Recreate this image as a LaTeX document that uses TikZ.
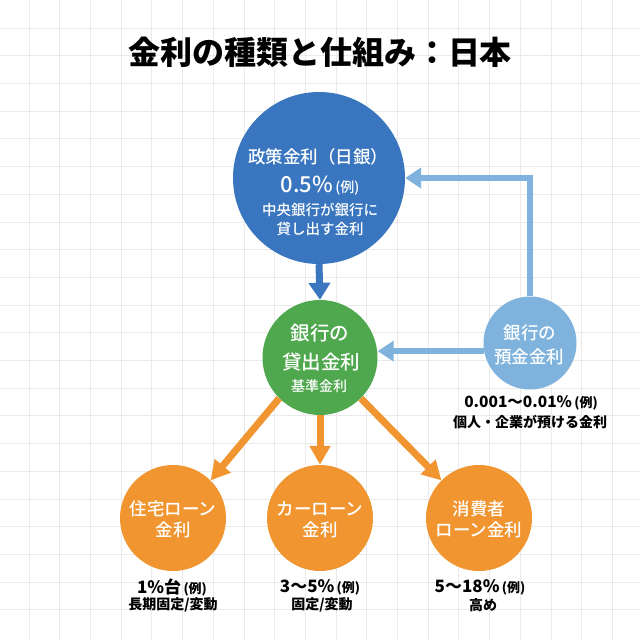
\documentclass[tikz,border=0pt]{standalone}
\usepackage{fontspec}
\setmainfont{Noto Sans CJK JP}
\newfontfamily\jpmed{Noto Sans CJK JP}[UprightFont=* Medium]
\usetikzlibrary{arrows.meta}
\definecolor{cblue}{HTML}{3A76BF}
\definecolor{cgreen}{HTML}{4FA84E}
\definecolor{clight}{HTML}{7FB3DD}
\definecolor{corange}{HTML}{F0952F}
\definecolor{cgrid}{HTML}{EAEAEA}
\newcommand{\fsz}[1]{\fontsize{#1}{#1}\selectfont}
\tikzset{
  gridline/.style={draw=cgrid, line width=0.8pt},
  circ/.style={circle, inner sep=0pt, draw=none},
  wt/.style={inner sep=0pt, text=white, font=\jpmed},
  bt/.style={inner sep=0pt, text=black, font=\bfseries},
  bluearrow/.style={draw=cblue, line width=7pt, -{Triangle[width=21pt,length=17pt]}},
  lightarrow/.style={draw=clight, line width=6pt, -{Triangle[width=20pt,length=16pt]}},
  orangearrow/.style={draw=corange, line width=7pt, -{Triangle[width=20pt,length=19pt]}},
}
\begin{document}
\begin{tikzpicture}[x=1pt,y=-1pt]
\useasboundingbox (0,0) rectangle (640,640);
\fill[white] (0,0) rectangle (640,640);
\foreach \i in {0,...,19} \draw[gridline] ({29+30.7*\i},0) -- ({29+30.7*\i},640);
\foreach \j in {0,...,21} \draw[gridline] (0,{28+27.7*\j}) -- (640,{28+27.7*\j});

% title
\node[bt, font=\bfseries\fsz{32}] (title) at (320,52) {金利の種類と仕組み：日本};

% circles
\node[circ, fill=cblue, minimum size=172pt] (pol) at (319,178) {};
\node[circ, fill=cgreen, minimum size=115pt] (lend) at (320,357.5) {};
\node[circ, fill=clight, minimum size=93pt] (dep) at (530,343) {};
\node[circ, fill=corange, minimum size=106pt] (home) at (173,518) {};
\node[circ, fill=corange, minimum size=106pt] (car) at (320,518) {};
\node[circ, fill=corange, minimum size=106pt] (cons) at (479,518) {};

% connectors
\draw[bluearrow] (pol.south) -- (lend.north);
\draw[lightarrow] (dep.north) |- (pol.east);
\draw[lightarrow] (dep.190) -- (dep.190 -| lend.east);
\draw[orangearrow] (lend.225) -- (home.45);
\draw[orangearrow] (lend.south) -- (car.north);
\draw[orangearrow] (lend.315) -- (cons.135);

% policy rate text
\node[wt, font=\jpmed\fsz{17.5}] (polA) at (318,157) {政策金利（日銀）};
\node[wt] (polB) at (320,186) {{\fsz{22}0.5\%} {\fsz{14}(例)}};
\node[wt, font=\jpmed\fsz{14.5}] (polC) at (320,210) {中央銀行が銀行に};
\node[wt, font=\jpmed\fsz{14.5}] (polD) at (320,229) {貸し出す金利};

% lending rate text
\node[wt, font=\jpmed\fsz{19.5}] (lendA) at (320,333) {銀行の};
\node[wt, font=\jpmed\fsz{19.5}] (lendB) at (321,362) {貸出金利};
\node[wt, font=\jpmed\fsz{14}] (lendC) at (319,386) {基準金利};

% deposit rate text
\node[wt, font=\jpmed\fsz{17.5}] (depA) at (530,333) {銀行の};
\node[wt, font=\jpmed\fsz{17.5}] (depB) at (529,357) {預金金利};
\node[bt] (depC) at (531,403) {{\fsz{15.5}0.001～0.01\%} {\fsz{13}(例)}};
\node[bt, font=\bfseries\fsz{14}] (depD) at (530,422) {個人・企業が預ける金利};

% loan circles text
\node[wt, font=\jpmed\fsz{17.5}] (homeA) at (173,509) {住宅ローン};
\node[wt, font=\jpmed\fsz{17.5}] (homeB) at (173,530) {金利};
\node[wt, font=\jpmed\fsz{17.5}] (carA) at (320,509) {カーローン};
\node[wt, font=\jpmed\fsz{17.5}] (carB) at (320,530) {金利};
\node[wt, font=\jpmed\fsz{17.5}] (consA) at (479,509) {消費者};
\node[wt, font=\jpmed\fsz{17.5}] (consB) at (479,530) {ローン金利};

% loan labels
\node[bt] (homeC) at (172,587) {{\fsz{17}1\%台} {\fsz{13}(例)}};
\node[bt, font=\bfseries\fsz{14}] (homeD) at (173,605) {長期固定/変動};
\node[bt] (carC) at (320,587) {{\fsz{17}3～5\%} {\fsz{13}(例)}};
\node[bt, font=\bfseries\fsz{14}] (carD) at (322,605) {固定/変動};
\node[bt] (consC) at (480,587) {{\fsz{17}5～18\%} {\fsz{13}(例)}};
\node[bt, font=\bfseries\fsz{14}] (consD) at (483,605) {高め};
\end{tikzpicture}
\end{document}
